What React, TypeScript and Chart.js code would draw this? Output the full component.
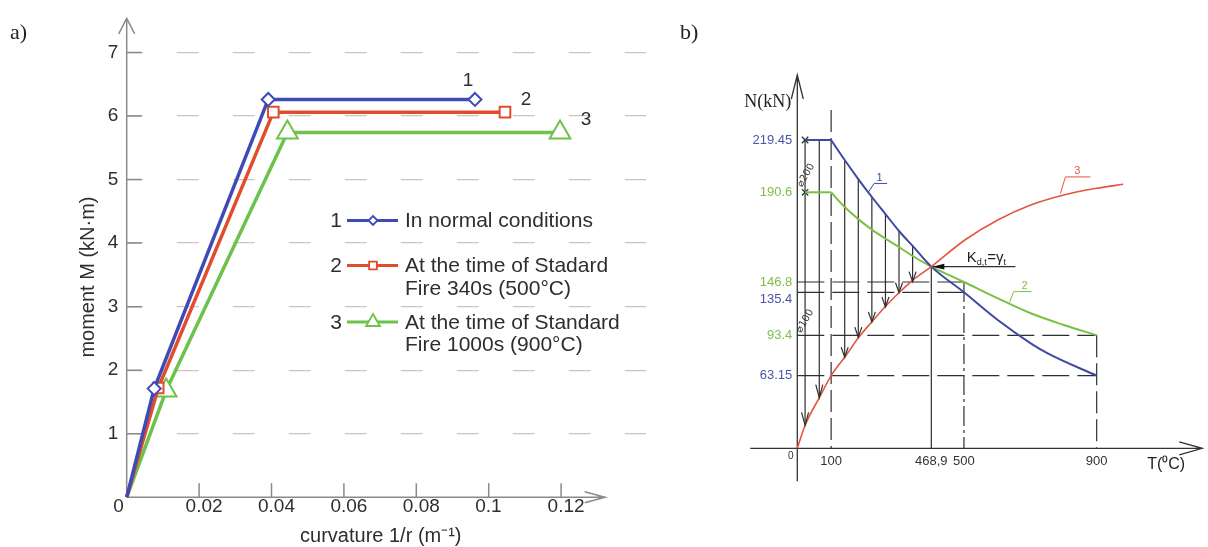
import React, { useEffect, useRef } from 'react';
import { Chart, LinearScale, registerables } from 'chart.js';

// ---------------- Panel a data ----------------
const curvatureTicks = [0, 0.02, 0.04, 0.06, 0.08, 0.1, 0.12];
const curvatureTickLabels = ['0', '0.02', '0.04', '0.06', '0.08', '0.1', '0.12'];
const momentTicks = [0, 1, 2, 3, 4, 5, 6, 7];
const momentTickLabels = ['', '1', '2', '3', '4', '5', '6', '7'];

const normalCurvature = [0, 0.0076, 0.0391, 0.0962];
const normalMoment = [0, 1.71, 6.26, 6.26];
const fire340Curvature = [0, 0.0087, 0.0405, 0.1045];
const fire340Moment = [0, 1.72, 6.06, 6.06];
const fire1000Curvature = [0, 0.0109, 0.0444, 0.1197];
const fire1000Moment = [0, 1.68, 5.74, 5.74];

const seriesNumbers = ['1', '2', '3'];
const legendTexts = [
  ['In normal conditions'],
  ['At the time of Stadard', 'Fire 340s (500°C)'],
  ['At the time of Standard', 'Fire 1000s (900°C)'],
];

// ---------------- Panel b data ----------------
const tempTicks = [100, 468.9, 500, 900];
const tempTickLabels = ['100', '468,9', '500', '900'];
const forceTicks = [63.15, 93.4, 135.4, 146.8, 190.6, 219.45];
const forceTickLabels = ['63.15', '93.4', '135.4', '146.8', '190.6', '219.45'];
const forceTickCurve = [1, 2, 1, 2, 2, 1];
const forceTickBelow = [false, false, true, false, false, false];

const curve1FlatT = [23, 100];
const curve1FlatN = [219.45, 219.45];
const curve1T = [100, 150, 200, 250, 300, 350, 400, 468.9, 500, 602, 701.2, 752.5, 900];
const curve1N = [219.45, 208.4, 197.9, 188.3, 180.0, 171.7, 164.4, 154.3, 135.4, 108.3, 87.4, 79.9, 63.15];
const curve2FlatT = [23, 100];
const curve2FlatN = [190.6, 190.6];
const curve2T = [100, 150, 200, 250, 300, 350, 400, 468.9, 500, 602, 701.2, 800.8, 900];
const curve2N = [190.6, 183.4, 177.5, 172.4, 168.0, 163.9, 159.5, 154.3, 146.8, 129.5, 114.9, 103.5, 93.4];
const curve3T = [0, 23, 66.8, 100, 153.4, 201.7, 250.4, 298.8, 349.7, 398, 468.9, 502.7, 602, 701.2, 800.8, 900, 979.6];
const curve3N = [0, 20, 44.9, 63.15, 77.9, 91.9, 106.7, 121.3, 135, 147.4, 154.3, 167.3, 177.1, 184.4, 189.3, 192.8, 195];

const arrowT = [23, 65, 150, 200, 250, 300, 350, 400];
const arrowTopN = [219.45, 219.45, 208.4, 197.9, 188.3, 180.0, 171.7, 164.4];
const arrowEndN = [20, 44, 77, 92, 106.5, 121, 135, 147];

const crossT = [23, 23];
const crossN = [219.45, 190.6];

const refHLevels = [146.8, 135.4, 93.4, 63.15];
const refHEnds = [500, 500, 900, 900];
const refVTemps = [100, 500, 900];
const refVTops = [236, 146.8, 93.4];

const critT = 468.9;
const critN = 154.3;
const kLineEndT = 655;

// ---------------- styles ----------------
const SANS = "'Liberation Sans', Arial, Helvetica, sans-serif";
const SERIF = "'Liberation Serif', 'Times New Roman', serif";
const TEXT_A = '#2e2e2e';
const AXIS_A = '#8a8a8a';
const BLUE_A = '#3e4ab6';
const RED_A = '#e24b2c';
const GREEN_A = '#6cc24b';
const DARK = '#2f2f2f';
const BLUE_B = '#3d4a9f';
const GREEN_B = '#7cc043';
const RED_B = '#e4553f';
const BLUE_T = '#4a56a6';
const GREEN_T = '#7dbf47';

// piecewise (schematic) scale: maps values to pixels through drawing anchors
function makePiecewiseScale(scaleId: string, values: number[], units: number[]) {
  const toUnit = (v: number) => {
    const n = values.length;
    let i = 1;
    while (i < n - 1 && v > values[i]) i++;
    return units[i - 1] + ((v - values[i - 1]) * (units[i] - units[i - 1])) / (values[i] - values[i - 1]);
  };
  const toValue = (u: number) => {
    const n = units.length;
    let i = 1;
    while (i < n - 1 && u > units[i]) i++;
    return values[i - 1] + ((u - units[i - 1]) * (values[i] - values[i - 1])) / (units[i] - units[i - 1]);
  };
  class PiecewiseScale extends LinearScale {
    static id = scaleId;
    static defaults = {};
    getPixelForValue(value: number) {
      const a = toUnit(this.min);
      const b = toUnit(this.max);
      return this.getPixelForDecimal((toUnit(value) - a) / (b - a));
    }
    getValueForPixel(pixel: number) {
      const a = toUnit(this.min);
      const b = toUnit(this.max);
      return toValue(a + this.getDecimalForPixel(pixel) * (b - a));
    }
  }
  return PiecewiseScale;
}

const TempScale = makePiecewiseScale('tempScale', [0, 100, 468.9, 500, 900], [797.3, 831.5, 932.8, 965.8, 1100]);
const ForceScale = makePiecewiseScale('forceScale', [0, 63.15, 93.4, 135.4, 146.8, 190.6, 219.45], [0, 72.6, 113, 156, 166.3, 256, 308.3]);

Chart.register(...registerables, TempScale, ForceScale);

const pts = (xs: number[], ys: number[]) => xs.map((x, i) => ({ x, y: ys[i] }));

function drawMarker(ctx: any, style: string, x: number, y: number, r: number, color: string, lw: number) {
  ctx.save();
  ctx.beginPath();
  if (style === 'rectRot') {
    ctx.moveTo(x, y - r);
    ctx.lineTo(x + r, y);
    ctx.lineTo(x, y + r);
    ctx.lineTo(x - r, y);
    ctx.closePath();
  } else if (style === 'rect') {
    const s = r * Math.SQRT1_2;
    ctx.rect(x - s, y - s, 2 * s, 2 * s);
  } else {
    let a = 0;
    ctx.moveTo(x + Math.sin(a) * r, y - Math.cos(a) * r);
    a += (2 * Math.PI) / 3;
    ctx.lineTo(x + Math.sin(a) * r, y - Math.cos(a) * r);
    a += (2 * Math.PI) / 3;
    ctx.lineTo(x + Math.sin(a) * r, y - Math.cos(a) * r);
    ctx.closePath();
  }
  ctx.fillStyle = '#fff';
  ctx.fill();
  ctx.strokeStyle = color;
  ctx.lineWidth = lw;
  ctx.stroke();
  ctx.restore();
}

// ---------------- Panel a plugin ----------------
const panelADecor = {
  id: 'panelADecor',
  beforeDatasetsDraw(chart: any) {
    const { ctx, chartArea: ca, scales } = chart;
    const xs = scales.x;
    const ys = scales.y;
    const x0 = xs.getPixelForValue(0);
    const y0 = ys.getPixelForValue(0);
    ctx.save();
    ctx.strokeStyle = AXIS_A;
    ctx.lineWidth = 1.5;
    ctx.beginPath();
    ctx.moveTo(x0, y0);
    ctx.lineTo(x0, ca.top + 0.5);
    ctx.moveTo(x0, y0);
    ctx.lineTo(x0 + 478.3, y0);
    ctx.moveTo(x0 - 8, ca.top + 16);
    ctx.lineTo(x0, ca.top + 0.5);
    ctx.lineTo(x0 + 8, ca.top + 16);
    ctx.moveTo(x0 + 458, y0 - 5.5);
    ctx.lineTo(x0 + 478.3, y0);
    ctx.lineTo(x0 + 458, y0 + 5.5);
    curvatureTicks.forEach((v) => {
      if (v === 0) return;
      const px = xs.getPixelForValue(v);
      ctx.moveTo(px, y0);
      ctx.lineTo(px, y0 - 14);
    });
    momentTicks.forEach((v) => {
      if (v === 0) return;
      const py = ys.getPixelForValue(v);
      ctx.moveTo(x0, py);
      ctx.lineTo(x0 + 15, py);
    });
    ctx.stroke();
    ctx.restore();
  },
  afterDraw(chart: any) {
    const { ctx } = chart;
    const colors = [BLUE_A, RED_A, GREEN_A];
    const styles = ['rectRot', 'rect', 'triangle'];
    const legendR = [4.5, 5.5, 8];
    const rowsY = [220.5, 265.5, 322];
    ctx.save();
    ctx.textBaseline = 'middle';
    for (let i = 0; i < 3; i++) {
      const y = rowsY[i];
      ctx.font = `21px ${SANS}`;
      ctx.fillStyle = TEXT_A;
      ctx.textAlign = 'center';
      ctx.fillText(seriesNumbers[i], 336, y + 1);
      ctx.strokeStyle = colors[i];
      ctx.lineWidth = 3;
      ctx.beginPath();
      ctx.moveTo(347, y);
      ctx.lineTo(398, y);
      ctx.stroke();
      drawMarker(ctx, styles[i], 373, y, legendR[i], colors[i], 1.8);
      ctx.fillStyle = TEXT_A;
      ctx.textAlign = 'left';
      legendTexts[i].forEach((t, j) => ctx.fillText(t, 405, y + 1 + j * 22.5));
    }
    // curve numbers at line ends
    const metas = [0, 1, 2].map((i) => chart.getDatasetMeta(i));
    const offs = [[-7, -19], [21, -12.4], [26, -13]];
    ctx.font = `19px ${SANS}`;
    ctx.fillStyle = TEXT_A;
    ctx.textAlign = 'center';
    metas.forEach((m: any, i: number) => {
      const last = m.data[m.data.length - 1];
      ctx.fillText(seriesNumbers[i], last.x + offs[i][0], last.y + offs[i][1]);
    });
    ctx.font = `22px ${SERIF}`;
    ctx.fillStyle = '#222';
    ctx.textAlign = 'left';
    ctx.fillText('a)', 10, 33);
    ctx.restore();
  },
};

// ---------------- Panel b plugin ----------------
const panelBDecor = {
  id: 'panelBDecor',
  beforeDatasetsDraw(chart: any) {
    const { ctx, chartArea: ca, scales } = chart;
    const x0 = scales.x.getPixelForValue(0);
    const y0 = scales.y.getPixelForValue(0);
    ctx.save();
    ctx.strokeStyle = '#333';
    ctx.lineWidth = 1.3;
    ctx.beginPath();
    ctx.moveTo(x0 - 47, y0);
    ctx.lineTo(ca.right, y0);
    ctx.moveTo(x0, y0 + 33);
    ctx.lineTo(x0, ca.top);
    ctx.moveTo(ca.right - 23, y0 - 6.5);
    ctx.lineTo(ca.right, y0);
    ctx.lineTo(ca.right - 23, y0 + 6.5);
    ctx.moveTo(x0 - 6, ca.top + 24);
    ctx.lineTo(x0, ca.top);
    ctx.lineTo(x0 + 6, ca.top + 24);
    ctx.stroke();
    ctx.restore();
  },
  afterDatasetsDraw(chart: any) {
    const { ctx, chartArea: ca, scales } = chart;
    const xs = scales.x;
    const ys = scales.y;
    const P = (t: number, n: number) => [xs.getPixelForValue(t), ys.getPixelForValue(n)];
    const x0 = xs.getPixelForValue(0);
    const y0 = ys.getPixelForValue(0);
    ctx.save();
    // arrow heads on vertical arrows
    ctx.strokeStyle = DARK;
    ctx.lineWidth = 1.2;
    ctx.beginPath();
    arrowT.forEach((t, i) => {
      const [px, py] = P(t, arrowEndN[i]);
      const len = i < 2 ? 13 : 10;
      ctx.moveTo(px - 3.5, py - len);
      ctx.lineTo(px, py);
      ctx.lineTo(px + 3.5, py - len);
    });
    ctx.stroke();
    // K arrow head
    const [ix, iy] = P(critT, critN);
    ctx.fillStyle = '#111';
    ctx.beginPath();
    ctx.moveTo(ix + 1, iy);
    ctx.lineTo(ix + 13, iy - 2.8);
    ctx.lineTo(ix + 13, iy + 2.8);
    ctx.closePath();
    ctx.fill();
    // K label
    ctx.fillStyle = '#222';
    ctx.textAlign = 'left';
    ctx.textBaseline = 'alphabetic';
    let cx = ix + 35.5;
    const by = iy - 5;
    ctx.font = `15px ${SANS}`;
    ctx.fillText('K', cx, by);
    cx += ctx.measureText('K').width;
    ctx.font = `9px ${SANS}`;
    ctx.fillText('d,t', cx, by + 3);
    cx += ctx.measureText('d,t').width + 0.5;
    ctx.font = `15px ${SANS}`;
    ctx.fillText('=γ', cx, by);
    cx += ctx.measureText('=γ').width;
    ctx.font = `9px ${SANS}`;
    ctx.fillText('t', cx, by + 3);
    // curve labels with leaders
    const leaders = [
      { t: 237.4, n: 190.7, label: '1', color: BLUE_B, a: [5.7, -8.7], b: [18.7, -8.7], txt: [11, -14.5] },
      { t: 637.7, n: 126, label: '2', color: GREEN_B, a: [4, -10.3], b: [22, -10.3], txt: [15, -16] },
      { t: 790.7, n: 190, label: '3', color: RED_B, a: [5, -16.6], b: [30, -16.6], txt: [17, -22.6] },
    ];
    ctx.lineWidth = 1;
    ctx.textAlign = 'center';
    ctx.textBaseline = 'middle';
    leaders.forEach((L) => {
      const [px, py] = P(L.t, L.n);
      ctx.strokeStyle = L.color;
      ctx.beginPath();
      ctx.moveTo(px, py);
      ctx.lineTo(px + L.a[0], py + L.a[1]);
      ctx.lineTo(px + L.b[0], py + L.b[1]);
      ctx.stroke();
      ctx.fillStyle = L.color;
      ctx.font = `11px ${SANS}`;
      ctx.fillText(L.label, px + L.txt[0], py + L.txt[1]);
    });
    // diameter annotations
    ctx.fillStyle = '#333';
    ctx.font = `10px 'DejaVu Sans', sans-serif`;
    [[23, 200, '⌀200'], [20, 107.4, '⌀100']].forEach((d: any) => {
      const [px, py] = P(d[0], d[1]);
      ctx.save();
      ctx.translate(px + 1, py);
      ctx.rotate(-Math.PI / 3);
      ctx.fillText(d[2], 0, 0);
      ctx.restore();
    });
    // origin, axis names, panel letter
    ctx.fillStyle = '#333';
    ctx.font = `10px ${SANS}`;
    ctx.fillText('0', x0 - 6.5, y0 + 8);
    ctx.font = `18px ${SERIF}`;
    ctx.textAlign = 'right';
    ctx.fillStyle = '#222';
    ctx.fillText('N(kN)', x0 - 6, ca.top + 27);
    ctx.font = `16px ${SANS}`;
    ctx.fillText('T(⁰C)', ca.right - 17, y0 + 16);
    ctx.font = `22px ${SERIF}`;
    ctx.textAlign = 'left';
    ctx.fillText('b)', 20, 33);
    ctx.restore();
  },
};

function lineDs(data: any[], color: string, width: number, dash: number[] = [], smooth = false) {
  return {
    data,
    showLine: true,
    borderColor: color,
    backgroundColor: color,
    borderWidth: width,
    borderDash: dash,
    pointRadius: 0,
    fill: false,
    clip: false,
    tension: 0,
    cubicInterpolationMode: smooth ? 'monotone' : 'default',
  };
}

function configA(): any {
  const series = [
    { xs: normalCurvature, ys: normalMoment, color: BLUE_A, style: 'rectRot', r: 6.5 },
    { xs: fire340Curvature, ys: fire340Moment, color: RED_A, style: 'rect', r: 7.5 },
    { xs: fire1000Curvature, ys: fire1000Moment, color: GREEN_A, style: 'triangle', r: 12 },
  ];
  return {
    type: 'scatter',
    data: {
      datasets: series.map((s) => ({
        data: pts(s.xs, s.ys),
        showLine: true,
        borderColor: s.color,
        borderWidth: 3.5,
        pointStyle: s.style,
        pointRadius: s.xs.map((_, i) => (i === 0 ? 0 : s.r)),
        pointBorderWidth: 2,
        pointBorderColor: s.color,
        pointBackgroundColor: '#ffffff',
        tension: 0,
        clip: false,
      })),
    },
    options: {
      responsive: false,
      animation: false,
      events: [],
      layout: { padding: { top: 10, right: 14, left: 0, bottom: 0 } },
      plugins: { legend: { display: false }, tooltip: { enabled: false } },
      scales: {
        x: {
          type: 'linear',
          position: 'bottom',
          min: 0,
          max: 0.14345,
          afterFit: (s: any) => {
            s.height = 49.7;
          },
          afterBuildTicks: (s: any) => {
            s.ticks = curvatureTicks.map((v) => ({ value: v }));
          },
          grid: { display: false, drawTicks: false },
          border: { display: false },
          ticks: {
            autoSkip: false,
            maxRotation: 0,
            align: 'start',
            labelOffset: -13.5,
            padding: 0,
            color: TEXT_A,
            font: { family: SANS, size: 19, lineHeight: 1 },
            callback: (v: number) => {
              const i = curvatureTicks.indexOf(v);
              return i < 0 ? '' : curvatureTickLabels[i];
            },
          },
          title: {
            display: true,
            text: 'curvature 1/r (m⁻¹)  ',
            color: TEXT_A,
            font: { family: SANS, size: 20, lineHeight: 1.1 },
            padding: 0,
          },
        },
        y: {
          type: 'linear',
          position: 'left',
          min: 0,
          max: 7.543,
          afterFit: (s: any) => {
            s.width = 126.7;
          },
          afterBuildTicks: (s: any) => {
            s.ticks = momentTicks.map((v) => ({ value: v }));
          },
          grid: {
            drawTicks: false,
            lineWidth: 1.3,
            color: (c: any) => (c.tick && c.tick.value === 0 ? 'rgba(0,0,0,0)' : '#ccc4c2'),
          },
          border: { display: false, dash: [22, 34], dashOffset: 6.2 },
          ticks: {
            autoSkip: false,
            padding: 8.4,
            color: TEXT_A,
            font: { family: SANS, size: 19, lineHeight: 1 },
            callback: (v: number) => {
              const i = momentTicks.indexOf(v);
              return i < 0 ? '' : momentTickLabels[i];
            },
          },
          title: {
            display: true,
            text: 'moment M (kN·m)       ',
            color: TEXT_A,
            font: { family: SANS, size: 20, lineHeight: 1.2 },
            padding: { top: 76, bottom: 0 },
          },
        },
      },
    },
    plugins: [panelADecor],
  };
}

function configB(): any {
  const datasets: any[] = [
    lineDs(pts(curve3T, curve3N), RED_B, 1.6, [], true),
    lineDs(pts(curve1FlatT, curve1FlatN), BLUE_B, 2),
    lineDs(pts(curve1T, curve1N), BLUE_B, 2, [], true),
    lineDs(pts(curve2FlatT, curve2FlatN), GREEN_B, 2),
    lineDs(pts(curve2T, curve2N), GREEN_B, 2, [], true),
    ...arrowT.map((t, i) => lineDs([{ x: t, y: arrowTopN[i] }, { x: t, y: arrowEndN[i] }], DARK, 1.2)),
    ...refHLevels.map((n, i) => lineDs([{ x: 0, y: n }, { x: refHEnds[i], y: n }], DARK, 1.2, [27, 8])),
    ...refVTemps.map((t, i) =>
      lineDs([{ x: t, y: refVTops[i] }, { x: t, y: 0 }], DARK, 1.2, i === 1 ? [20, 4, 3, 4] : [22, 6])
    ),
    lineDs([{ x: critT, y: critN }, { x: critT, y: 0 }], DARK, 1.2),
    lineDs([{ x: critT, y: critN }, { x: kLineEndT, y: critN }], DARK, 1.2),
    {
      data: pts(crossT, crossN),
      showLine: false,
      pointStyle: 'crossRot',
      pointRadius: 4.5,
      pointBorderColor: DARK,
      pointBorderWidth: 1.3,
      clip: false,
    },
  ];
  return {
    type: 'scatter',
    data: { datasets },
    options: {
      responsive: false,
      animation: false,
      events: [],
      layout: { padding: { top: 75, right: 1.3, left: 0, bottom: 0 } },
      plugins: { legend: { display: false }, tooltip: { enabled: false } },
      scales: {
        x: {
          type: 'tempScale',
          position: 'bottom',
          min: 0,
          max: 1218,
          afterFit: (s: any) => {
            s.height = 98.7;
          },
          afterBuildTicks: (s: any) => {
            s.ticks = tempTicks.map((v) => ({ value: v }));
          },
          grid: { display: false, drawTicks: false },
          border: { display: false },
          ticks: {
            autoSkip: false,
            maxRotation: 0,
            padding: 5.6,
            color: '#333',
            font: { family: SANS, size: 13 },
            callback: (v: number) => {
              const i = tempTicks.indexOf(v);
              return i < 0 ? '' : tempTickLabels[i];
            },
          },
        },
        y: {
          type: 'forceScale',
          position: 'left',
          min: 0,
          max: 255.3,
          afterFit: (s: any) => {
            s.width = 137.3;
          },
          afterBuildTicks: (s: any) => {
            s.ticks = forceTicks.map((v) => ({ value: v }));
          },
          grid: { display: false, drawTicks: false },
          border: { display: false },
          ticks: {
            autoSkip: false,
            padding: 5,
            font: { family: SANS, size: 13, lineHeight: 1.1 },
            color: (c: any) => {
              const i = forceTicks.indexOf(c.tick ? c.tick.value : NaN);
              return forceTickCurve[i] === 1 ? BLUE_T : GREEN_T;
            },
            callback: (v: number) => {
              const i = forceTicks.indexOf(v);
              if (i < 0) return '';
              return forceTickBelow[i] ? ['', forceTickLabels[i]] : forceTickLabels[i];
            },
          },
        },
      },
    },
    plugins: [panelBDecor],
  };
}

export default function App() {
  const refA = useRef<HTMLCanvasElement>(null);
  const refB = useRef<HTMLCanvasElement>(null);
  useEffect(() => {
    const a = new Chart(refA.current as HTMLCanvasElement, configA());
    const b = new Chart(refB.current as HTMLCanvasElement, configB());
    return () => {
      a.destroy();
      b.destroy();
    };
  }, []);
  return (
    <div style={{ position: 'absolute', left: 0, top: 0, width: 1208, height: 547, background: '#ffffff', overflow: 'hidden' }}>
      <canvas ref={refA} width={660} height={547} style={{ position: 'absolute', left: 0, top: 0, width: 660, height: 547 }} />
      <canvas ref={refB} width={548} height={547} style={{ position: 'absolute', left: 660, top: 0, width: 548, height: 547 }} />
    </div>
  );
}
